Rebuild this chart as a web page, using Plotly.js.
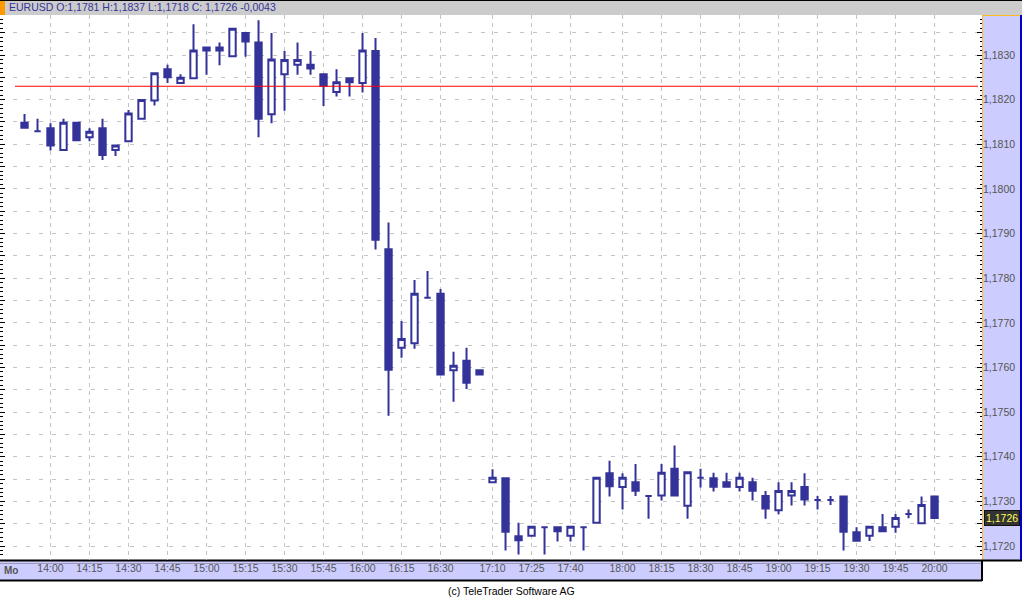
<!DOCTYPE html>
<html>
<head>
<meta charset="utf-8">
<script src="https://cdn.plot.ly/plotly-3.0.1.min.js"></script>
<style>
html,body{margin:0;padding:0;background:#fff;}
#chart{width:1022px;height:598px;}
</style>
</head>
<body>
<div id="chart"></div>
<script>
// 5-minute candle times (category axis)
const times = ["13:50","13:55","14:00","14:05","14:10","14:15","14:20","14:25","14:30","14:35","14:40","14:45",
 "14:50","14:55","15:00","15:05","15:10","15:15","15:20","15:25","15:30","15:35","15:40","15:45",
 "15:50","15:55","16:00","16:05","16:10","16:15","16:20","16:25","16:30","16:35","16:40","16:45",
 "17:10","17:15","17:20","17:25","17:30","17:35","17:40","17:45","17:50","17:55",
 "18:00","18:05","18:10","18:15","18:20","18:25","18:30","18:35","18:40","18:45","18:50","18:55",
 "19:00","19:05","19:10","19:15","19:20","19:25","19:30","19:35","19:40","19:45","19:50","19:55","20:00"];

const openP = [1.18148,1.18129,1.18136,1.18087,1.18148,1.18116,1.18136,1.18087,1.18107,1.18157,1.18198,1.18268,
 1.18237,1.18248,1.18317,1.18317,1.18297,1.18349,1.18328,1.18167,1.18257,1.18278,1.18278,1.18257,
 1.18217,1.18248,1.18237,1.18309,1.17865,1.17644,1.17654,1.17756,1.17765,1.17594,1.17615,1.17594,
 1.17343,1.17352,1.17222,1.17223,1.17242,1.17242,1.17223,1.17242,1.17252,1.17363,
 1.17332,1.17343,1.17312,1.17313,1.17373,1.17290,1.17353,1.17352,1.17343,1.17332,1.17343,1.17312,
 1.17280,1.17313,1.17332,1.17303,1.17303,1.17311,1.17231,1.17223,1.17242,1.17243,1.17272,1.17251,1.17311];
const highP = [1.18168,1.18157,1.18147,1.18157,1.18148,1.18136,1.18157,1.18097,1.18177,1.18199,1.18259,1.18278,
 1.18257,1.18369,1.18317,1.18328,1.18359,1.18349,1.18378,1.18349,1.18309,1.18328,1.18309,1.18257,
 1.18268,1.18248,1.18349,1.18338,1.17925,1.17704,1.17796,1.17816,1.17776,1.17635,1.17644,1.17594,
 1.17372,1.17352,1.17252,1.17243,1.17242,1.17242,1.17243,1.17242,1.17353,1.17391,
 1.17363,1.17384,1.17312,1.17384,1.17425,1.17365,1.17373,1.17364,1.17364,1.17364,1.17353,1.17323,
 1.17343,1.17343,1.17363,1.17312,1.17312,1.17311,1.17242,1.17243,1.17272,1.17272,1.17282,1.17311,1.17311];
const lowP = [1.18137,1.18129,1.18086,1.18087,1.18109,1.18107,1.18065,1.18074,1.18107,1.18157,1.18187,1.18237,
 1.18237,1.18248,1.18256,1.18277,1.18297,1.18296,1.18116,1.18147,1.18175,1.18256,1.18256,1.18186,
 1.18207,1.18207,1.18216,1.17864,1.17492,1.17622,1.17642,1.17756,1.17584,1.17523,1.17552,1.17584,
 1.17343,1.17190,1.17181,1.17223,1.17181,1.17210,1.17210,1.17190,1.17252,1.17311,
 1.17282,1.17312,1.17261,1.17302,1.17313,1.17261,1.17331,1.17322,1.17333,1.17322,1.17302,1.17261,
 1.17271,1.17291,1.17291,1.17282,1.17292,1.17190,1.17212,1.17211,1.17233,1.17230,1.17262,1.17251,1.17263];
const closeP = [1.18137,1.18129,1.18097,1.18148,1.18109,1.18128,1.18076,1.18097,1.18169,1.18199,1.18259,1.18250,
 1.18249,1.18310,1.18310,1.18310,1.18359,1.18330,1.18157,1.18290,1.18289,1.18289,1.18270,1.18231,
 1.18239,1.18239,1.18310,1.17886,1.17595,1.17664,1.17765,1.17756,1.17584,1.17604,1.17566,1.17584,
 1.17353,1.17232,1.17213,1.17243,1.17242,1.17233,1.17243,1.17242,1.17353,1.17334,
 1.17353,1.17324,1.17312,1.17364,1.17313,1.17365,1.17353,1.17333,1.17333,1.17353,1.17324,1.17284,
 1.17323,1.17323,1.17304,1.17303,1.17303,1.17232,1.17212,1.17243,1.17233,1.17263,1.17272,1.17292,1.17263];

const tickLabels = ["14:00","14:15","14:30","14:45","15:00","15:15","15:30","15:45","16:00","16:15","16:30",
 "17:10","17:25","17:40","18:00","18:15","18:30","18:45","19:00","19:15","19:30","19:45","20:00"];

// price grid levels and their labels (half steps unlabeled)
const priceTicks = [1.1720,1.17250,1.1730,1.17350,1.1740,1.17450,1.1750,1.17550,1.1760,1.17650,1.1770,1.17750,
 1.1780,1.17850,1.1790,1.17950,1.1800,1.18050,1.1810,1.18150,1.1820,1.18250,1.1830,1.18350];
const priceLabels = ["1,1720","","1,1730","","1,1740","","1,1750","","1,1760","","1,1770","",
 "1,1780","","1,1790","","1,1800","","1,1810","","1,1820","","1,1830",""];

const headerText = "EURUSD O:1,1781 H:1,1837 L:1,1718 C: 1,1726 -0,0043";
const refLevel = 1.1823;
const lastLabel = "1,1726";
const footerText = "(c) TeleTrader Software AG";

// geometry
const W = 1022, H = 598;
const L = 0, R = 40, T = 15, B = 38;
const PW = W - L - R, PH = H - T - B;
const px = v => (v - L) / PW;          // pixel x -> paper
const py = v => (H - B - v) / PH;      // pixel y -> paper
const yRange = [1.171687, 1.183896];
const xRange = [-1.885, 73.65];

const navy = '#333399';
const lav = '#ccccff';
const gridC = '#c4c4c4';

const trace = {
  type: 'candlestick',
  x: times, open: openP, high: highP, low: lowP, close: closeP,
  increasing: {line: {color: navy, width: 2}, fillcolor: '#ffffff'},
  decreasing: {line: {color: navy, width: 2}, fillcolor: navy},
  whiskerwidth: 0,
  hoverinfo: 'skip',
  showlegend: false
};
// invisible companion so the left tick axis is drawn
const leftAxisTrace = {type: 'scatter', x: times, y: closeP, yaxis: 'y3', mode: 'none', hoverinfo: 'skip', showlegend: false};

const font = 'Liberation Sans, Arial, sans-serif';

const layout = {
  width: W, height: H,
  margin: {l: L, r: R, t: T, b: B, pad: 0},
  paper_bgcolor: '#ffffff', plot_bgcolor: '#ffffff',
  separators: ',.',
  showlegend: false,
  font: {family: font, size: 10.5, color: '#555555'},
  xaxis: {
    type: 'category', range: xRange, tickmode: 'array', tickvals: tickLabels, ticktext: tickLabels,
    showgrid: true, gridcolor: gridC, griddash: '4px,4px', gridwidth: 1,
    ticks: '', showline: false, zeroline: false, rangeslider: {visible: false},
    tickfont: {family: font, size: 10.5, color: '#555555'}, fixedrange: true
  },
  yaxis: {
    side: 'right', range: yRange, tickmode: 'array', tickvals: priceTicks, ticktext: priceLabels,
    ticks: 'inside', ticklen: 5, tickcolor: '#000', tickwidth: 1,
    minor: {dtick: 0.0001, tick0: 0, ticks: 'inside', ticklen: 2, tickcolor: '#000', tickwidth: 1, showgrid: false},
    showgrid: true, gridcolor: gridC, griddash: '4px,9px', gridwidth: 1,
    zeroline: false, showline: false,
    tickfont: {family: font, size: 10.5, color: '#555555'}, fixedrange: true
  },
  yaxis3: {
    overlaying: 'y', side: 'left', range: yRange, tickmode: 'linear', tick0: 0, dtick: 0.0005,
    ticks: 'inside', ticklen: 5, tickcolor: '#000', showticklabels: false,
    minor: {dtick: 0.0001, tick0: 0, ticks: 'inside', ticklen: 3, tickcolor: '#000', showgrid: false},
    showgrid: false, zeroline: false, showline: false, fixedrange: true
  },
  shapes: [
    // header bar
    {type: 'rect', xref: 'paper', yref: 'paper', x0: px(0), x1: px(W), y0: py(15), y1: py(0), fillcolor: '#cccccc', line: {width: 0}, layer: 'below'},
    {type: 'line', xref: 'paper', yref: 'paper', x0: px(0), x1: px(W), y0: py(0.5), y1: py(0.5), line: {color: '#000', width: 1}, layer: 'below'},
    {type: 'rect', xref: 'paper', yref: 'paper', x0: px(0), x1: px(5), y0: py(15), y1: py(1), fillcolor: '#ff9900', line: {width: 0}, layer: 'below'},
    // right value panel
    {type: 'rect', xref: 'paper', yref: 'paper', x0: px(982), x1: px(1021), y0: py(560), y1: py(15), fillcolor: lav, line: {width: 0}, layer: 'below'},
    {type: 'line', xref: 'paper', yref: 'paper', x0: px(982.5), x1: px(982.5), y0: py(560), y1: py(15), line: {color: '#ffbb22', width: 1}, layer: 'below'},
    {type: 'line', xref: 'paper', yref: 'paper', x0: px(982), x1: px(1021), y0: py(15.5), y1: py(15.5), line: {color: '#ffbb22', width: 1}, layer: 'below'},
    {type: 'line', xref: 'paper', yref: 'paper', x0: px(1021), x1: px(1021), y0: py(560), y1: py(15), line: {color: '#0000cc', width: 2}, layer: 'below'},
    // x-axis bar
    {type: 'rect', xref: 'paper', yref: 'paper', x0: px(0), x1: px(982), y0: py(580), y1: py(560), fillcolor: lav, line: {width: 0}, layer: 'below'},
    {type: 'line', xref: 'paper', yref: 'paper', x0: px(0), x1: px(1022), y0: py(560.5), y1: py(560.5), line: {color: '#000', width: 2}, layer: 'below'},
    {type: 'line', xref: 'paper', yref: 'paper', x0: px(0), x1: px(982), y0: py(563.5), y1: py(563.5), line: {color: '#9a9ab4', width: 1}, layer: 'below'},
    {type: 'line', xref: 'paper', yref: 'paper', x0: px(0), x1: px(982), y0: py(580.5), y1: py(580.5), line: {color: '#000', width: 2}, layer: 'below'},
    {type: 'line', xref: 'paper', yref: 'paper', x0: px(982), x1: px(982), y0: py(581), y1: py(560), line: {color: '#000', width: 2}, layer: 'below'},
    // reference level
    {type: 'line', xref: 'paper', yref: 'y', x0: px(15), x1: px(978), y0: refLevel, y1: refLevel, line: {color: '#ff0000', width: 1.2}, layer: 'above'}
  ],
  annotations: [
    {xref: 'paper', yref: 'paper', x: px(7), y: py(7.5), xanchor: 'left', yanchor: 'middle', showarrow: false,
     text: headerText, font: {family: font, size: 10.5, color: navy}},
    {xref: 'paper', yref: 'paper', x: px(2), y: py(570.5), xanchor: 'left', yanchor: 'middle', showarrow: false,
     text: '<b>Mo</b>', font: {family: font, size: 10, color: '#555555'}},
    {xref: 'paper', yref: 'paper', x: px(511), y: py(591), xanchor: 'center', yanchor: 'middle', showarrow: false,
     text: footerText, font: {family: font, size: 10.5, color: '#000'}},
    {xref: 'paper', yref: 'y', x: px(984), y: closeP[closeP.length - 1], xanchor: 'left', yanchor: 'middle', showarrow: false,
     text: lastLabel, font: {family: font, size: 10.5, color: '#ffff55'}, bgcolor: '#333333', bordercolor: '#111111', borderwidth: 1, borderpad: 1}
  ]
};

Plotly.newPlot('chart', [trace, leftAxisTrace], layout, {staticPlot: true, displayModeBar: false});
</script>
</body>
</html>
